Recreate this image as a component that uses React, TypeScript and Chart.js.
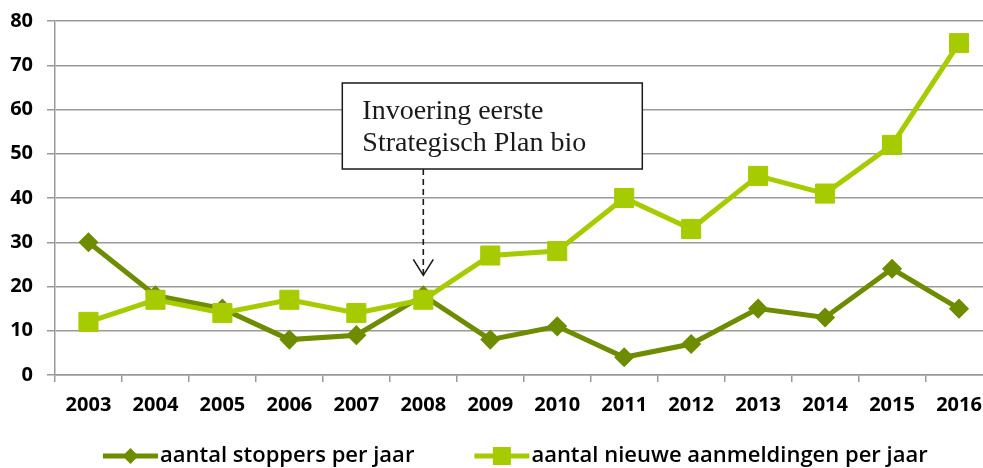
import React, { useEffect, useRef } from 'react';
import { Chart, registerables } from 'chart.js';

Chart.register(...registerables);

const years = ['2003', '2004', '2005', '2006', '2007', '2008', '2009', '2010', '2011', '2012', '2013', '2014', '2015', '2016'];
const stoppers = [30, 18, 15, 8, 9, 18, 8, 11, 4, 7, 15, 13, 24, 15];
const newRegistrations = [12, 17, 14, 17, 14, 17, 27, 28, 40, 33, 45, 41, 52, 75];
const seriesLabels = ['aantal stoppers per jaar', 'aantal nieuwe aanmeldingen per jaar'];
const yTicks = [0, 10, 20, 30, 40, 50, 60, 70, 80];
const annotationYear = '2008';
const annotationLines = ['Invoering eerste', 'Strategisch Plan bio'];

const DARK = '#6E8C00';
const LIGHT = '#A6CC00';
const GRID = '#999999';
const TICK_FONT = { family: '"Open Sans", sans-serif', size: 20, weight: 'bold' as const };
const CANVAS_W = 1007;
const CANVAS_H = 468;

const annotationPlugin = {
  id: 'annotationBox',
  afterDatasetsDraw(chart: any) {
    const { ctx, chartArea } = chart;
    const xs = chart.scales.x;
    const ys = chart.scales.y;
    const idx = years.indexOf(annotationYear);
    const x = xs.getPixelForValue(idx);
    const tipY = ys.getPixelForValue(Math.max(stoppers[idx], newRegistrations[idx])) - 20;
    const left = x - 81;
    const top = chartArea.top + 62;
    const w = 300;
    const h = 86;
    ctx.save();
    ctx.fillStyle = '#ffffff';
    ctx.fillRect(left, top, w, h);
    ctx.strokeStyle = '#1a1a1a';
    ctx.lineWidth = 1.5;
    ctx.strokeRect(left, top, w, h);
    ctx.fillStyle = '#1a1a1a';
    ctx.font = '28px "Liberation Serif", serif';
    ctx.textBaseline = 'alphabetic';
    ctx.fillText(annotationLines[0], left + 20, top + 36);
    ctx.fillText(annotationLines[1], left + 20, top + 68);
    ctx.beginPath();
    ctx.setLineDash([6, 4]);
    ctx.lineWidth = 1.6;
    ctx.moveTo(x, top + h);
    ctx.lineTo(x, tipY);
    ctx.stroke();
    ctx.setLineDash([]);
    ctx.beginPath();
    ctx.moveTo(x - 10, tipY - 16);
    ctx.lineTo(x, tipY);
    ctx.lineTo(x + 10, tipY - 16);
    ctx.stroke();
    ctx.restore();
  },
};

const legendPlugin = {
  id: 'customLegend',
  afterDraw(chart: any) {
    const { ctx } = chart;
    const y = 456;
    ctx.save();
    ctx.font = '600 22px "Open Sans", sans-serif';
    ctx.textBaseline = 'middle';
    let xStart = 103;
    chart.data.datasets.forEach((ds: any) => {
      const lineEnd = xStart + 55;
      const mid = (xStart + lineEnd) / 2;
      ctx.strokeStyle = ds.borderColor;
      ctx.lineWidth = 5;
      ctx.beginPath();
      ctx.moveTo(xStart, y);
      ctx.lineTo(lineEnd, y);
      ctx.stroke();
      ctx.fillStyle = ds.borderColor;
      ctx.beginPath();
      if (ds.pointStyle === 'rectRot') {
        const r = 8;
        ctx.moveTo(mid, y - r);
        ctx.lineTo(mid + r, y);
        ctx.lineTo(mid, y + r);
        ctx.lineTo(mid - r, y);
        ctx.closePath();
      } else {
        ctx.rect(mid - 9, y - 9, 18, 18);
      }
      ctx.fill();
      ctx.fillStyle = '#000000';
      const textX = lineEnd + 2;
      ctx.fillText(ds.label, textX, y);
      xStart = textX + ctx.measureText(ds.label).width + 60;
    });
    ctx.restore();
  },
};

export default function App() {
  const canvasRef = useRef<HTMLCanvasElement | null>(null);

  useEffect(() => {
    const canvas = canvasRef.current;
    if (!canvas) return;
    const chart = new Chart(canvas, {
      type: 'line',
      data: {
        labels: years,
        datasets: [
          {
            label: seriesLabels[0],
            data: stoppers,
            borderColor: DARK,
            backgroundColor: DARK,
            borderWidth: 5,
            pointStyle: 'rectRot',
            pointRadius: 9,
            pointBorderWidth: 1.5,
            pointBackgroundColor: DARK,
            pointBorderColor: DARK,
            tension: 0,
            order: 1,
          },
          {
            label: seriesLabels[1],
            data: newRegistrations,
            borderColor: LIGHT,
            backgroundColor: LIGHT,
            borderWidth: 5,
            pointStyle: 'rect',
            pointRadius: 13.5,
            pointBorderWidth: 1,
            pointBackgroundColor: LIGHT,
            pointBorderColor: LIGHT,
            tension: 0,
            order: 0,
          },
        ],
      },
      options: {
        responsive: false,
        animation: false,
        events: [],
        layout: { padding: { top: 21, left: 0, right: 0, bottom: 38 } },
        plugins: {
          legend: { display: false },
          tooltip: { enabled: false },
        },
        scales: {
          x: {
            type: 'category',
            offset: true,
            grid: {
              offset: true,
              drawOnChartArea: false,
              drawTicks: true,
              tickLength: 7,
              color: GRID,
              lineWidth: 1.5,
            },
            border: { display: true, color: GRID, width: 1.5 },
            ticks: { font: TICK_FONT, color: '#000000', padding: 11, maxRotation: 0, autoSkip: false },
            afterFit(scale: any) {
              scale.height = 55;
            },
          },
          y: {
            min: yTicks[0],
            max: yTicks[yTicks.length - 1],
            afterBuildTicks(scale: any) {
              scale.ticks = yTicks.map((v) => ({ value: v }));
            },
            grid: {
              drawOnChartArea: true,
              drawTicks: true,
              tickLength: 8,
              color: GRID,
              lineWidth: 1.5,
            },
            border: { display: true, color: GRID, width: 1.5 },
            ticks: { font: TICK_FONT, color: '#000000', padding: 14 },
            afterFit(scale: any) {
              scale.width = 55;
              scale.paddingTop = 0;
              scale.paddingBottom = 0;
            },
          },
        },
      },
      plugins: [annotationPlugin, legendPlugin],
    });
    return () => chart.destroy();
  }, []);

  return (
    <div style={{ position: 'fixed', left: 0, top: 0, width: CANVAS_W, height: CANVAS_H, background: '#ffffff' }}>
      <canvas ref={canvasRef} width={CANVAS_W} height={CANVAS_H} style={{ display: 'block' }} />
    </div>
  );
}
